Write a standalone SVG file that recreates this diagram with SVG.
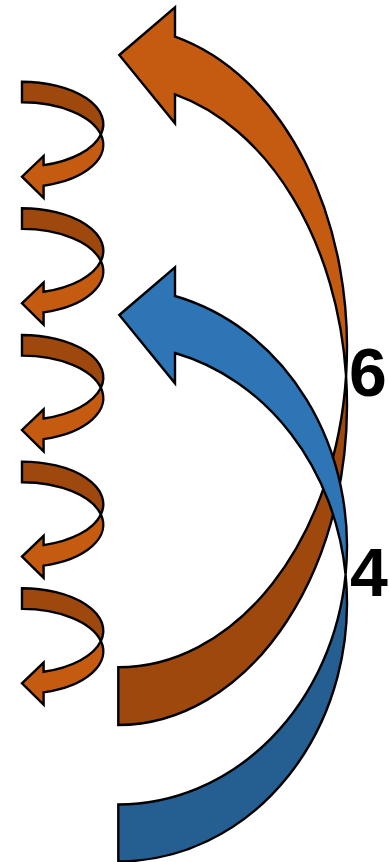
<svg xmlns="http://www.w3.org/2000/svg" width="389" height="862" viewBox="0 0 389 862">
  <style>
    .sh { stroke: #000; stroke-width: 2.4; stroke-linejoin: miter; }
    .oL { fill: #C55A11; }
    .oD { fill: #9E480E; }
    .bL { fill: #2E75B6; }
    .bD { fill: #255E91; }
    .lbl { font-family: "Liberation Sans", Arial, sans-serif; font-weight: bold; font-size: 68px; fill: #000; }
  </style>
  <defs>
    <g id="small-arrow">
      <path class="sh oD" d="M0,0 A81.3,42.5 0 0 1 78.88,52.8 A81.3,42.5 0 0 0 0,20.6 Z"/>
      <path class="sh oL" d="M78.88,52.8 A81.3,42.5 0 0 1 21.6,104.07 L21.6,116.3 L0,95 L21.6,74.3 L21.6,83.47 A81.3,42.5 0 0 0 78.88,52.8 Z"/>
    </g>
  </defs>
  <g id="small-arrow-1" transform="translate(22,81.7)"><use href="#small-arrow"/></g>
  <g id="small-arrow-2" transform="translate(22,208.3)"><use href="#small-arrow"/></g>
  <g id="small-arrow-3" transform="translate(22,335)"><use href="#small-arrow"/></g>
  <g id="small-arrow-4" transform="translate(22,461.6)"><use href="#small-arrow"/></g>
  <g id="small-arrow-5" transform="translate(22,588.3)"><use href="#small-arrow"/></g>
  <g id="orange-arrow">
    <path class="sh oD" d="M346.07,375.85 A228.7,320.3 0 0 1 118.3,667.3 L118.3,725 A228.7,320.3 0 0 0 346.07,375.85 Z"/>
    <path class="sh oL" d="M346.07,375.85 A228.7,320.3 0 0 0 175,36.7 L175,7.3 L119.3,55 L175,123.3 L175,94.4 A228.7,320.3 0 0 1 346.07,375.85 Z"/>
  </g>
  <g id="blue-arrow">
    <path class="sh bD" d="M345.6,574.7 A228.7,258.3 0 0 1 118.3,804.5 L118.3,861.5 A228.7,258.3 0 0 0 345.6,574.7 Z"/>
    <path class="sh bL" d="M345.6,574.7 A228.7,258.3 0 0 0 175,296 L175,267.3 L119.3,315 L175,383.3 L175,353 A228.7,258.3 0 0 1 345.6,574.7 Z"/>
  </g>
  <g id="label-6"><text class="lbl" x="349" y="396">6</text></g>
  <g id="label-4"><text class="lbl" x="350" y="596">4</text></g>
</svg>
